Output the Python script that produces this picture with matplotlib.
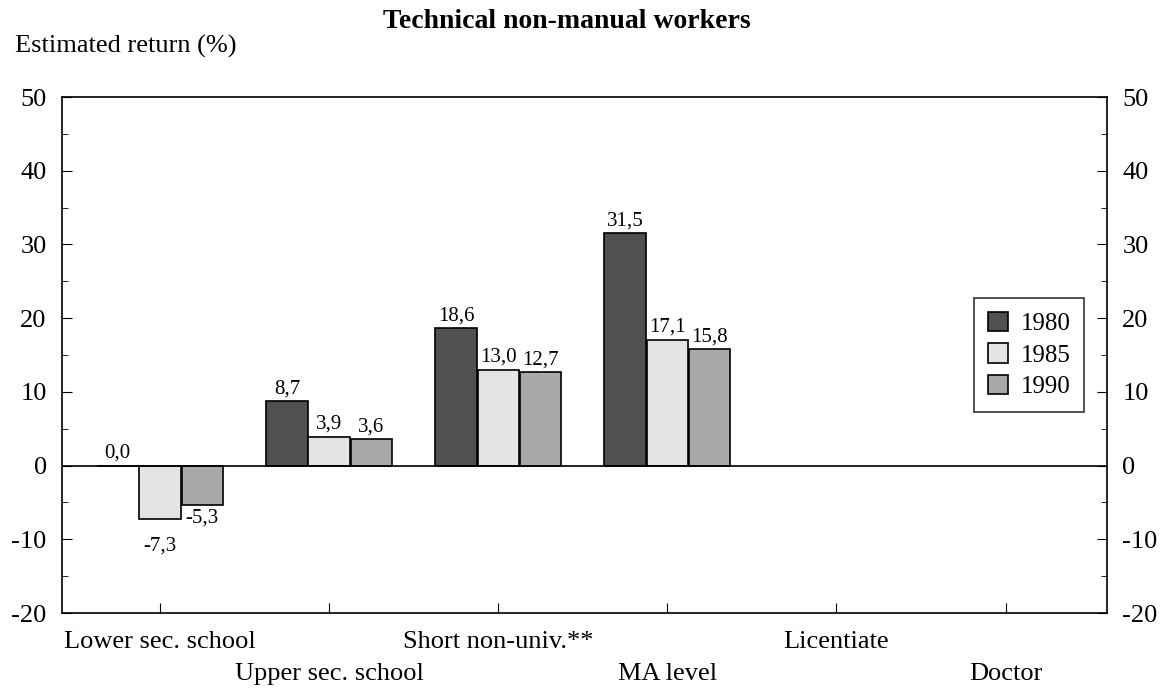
import numpy as np
import matplotlib.pyplot as plt
from matplotlib.ticker import MultipleLocator
import matplotlib.transforms as mtransforms

plt.rcParams['font.family'] = ['Liberation Serif', 'DejaVu Serif']
plt.rcParams['axes.unicode_minus'] = False

# data
categories = ['Lower sec. school', 'Upper sec. school', 'Short non-univ.**',
              'MA level', 'Licentiate', 'Doctor']
years = ['1980', '1985', '1990']
v1980 = [0.0, 8.7, 18.6, 31.5]
v1985 = [-7.3, 3.9, 13.0, 17.1]
v1990 = [-5.3, 3.6, 12.7, 15.8]

colors = ['#505050', '#e4e4e4', '#a9a9a9']

fig = plt.figure(figsize=(11.6, 6.93), dpi=100)
ax = fig.add_axes([62/1160, 1-613/693, (1107-62)/1160, (613-97)/693])

x = np.arange(len(v1980))
w = 0.245
off = 0.25
series = [v1980, v1985, v1990]
for i, vals in enumerate(series):
    xs = x + (i-1)*off
    ax.bar(xs, vals, w, color=colors[i], edgecolor='black', linewidth=1.2,
           label=years[i], zorder=3)
    for xi, v in zip(xs, vals):
        txt = ('%.1f' % v).replace('.', ',')
        if v < 0:
            dy = -12 if i == 1 else -3
            ax.annotate(txt, (xi, v), xytext=(0, dy), textcoords='offset points',
                        ha='center', va='top', fontsize=15)
        else:
            ax.annotate(txt, (xi, v), xytext=(0, 2), textcoords='offset points',
                        ha='center', va='bottom', fontsize=15)

ax.axhline(0, color='black', linewidth=1.2, zorder=4)

ax.set_xlim(-0.58, 5.6)
ax.set_ylim(-20, 50)
ax.yaxis.set_major_locator(MultipleLocator(10))
ax.yaxis.set_minor_locator(MultipleLocator(5))
ax.tick_params(axis='y', which='both', direction='in', left=True, right=True,
               labelleft=True, labelright=True, labelsize=19, pad=11)
ax.tick_params(axis='y', which='major', length=7)
ax.tick_params(axis='y', which='minor', length=4)

# category labels on two staggered rows
ax.set_xticks(np.arange(len(categories)))
labs = [c if k % 2 == 0 else '' for k, c in enumerate(categories)]
ax.set_xticklabels(labs, fontsize=19)
ax.tick_params(axis='x', direction='in', length=7, pad=13)
trans = mtransforms.blended_transform_factory(ax.transData, ax.transAxes)
for k, c in enumerate(categories):
    if k % 2 == 1:
        ax.annotate(c, (k, 0), xycoords=trans, xytext=(0, -44),
                    textcoords='offset points', ha='center', va='center',
                    fontsize=19)

for s in ax.spines.values():
    s.set_linewidth(1.2)

leg = ax.legend(loc='center right', bbox_to_anchor=(0.978, 0.5), fontsize=18,
                frameon=True, fancybox=False, edgecolor='black',
                handlelength=0.8, handleheight=0.8, borderpad=0.55,
                labelspacing=0.32, handletextpad=0.5, borderaxespad=0)
leg.get_frame().set_linewidth(1.2)

fig.text(567/1160, 1-22/693, 'Technical non-manual workers', ha='center',
         va='center', fontsize=20, fontweight='bold')
fig.text(15/1160, 1-46/693, 'Estimated return (%)', ha='left', va='center',
         fontsize=19)

fig.savefig('out.png', dpi=100)
